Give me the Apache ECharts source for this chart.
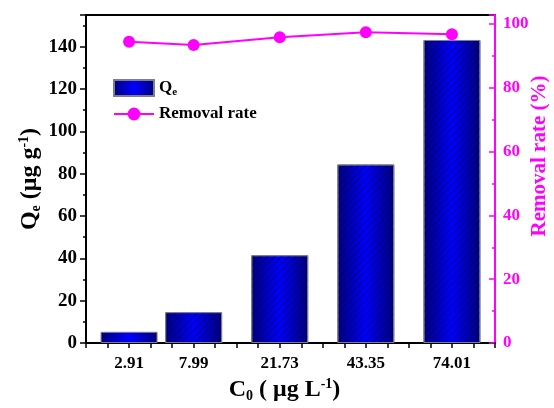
<!DOCTYPE html>
<html>
<head>
<meta charset="utf-8">
<script src="https://cdn.jsdelivr.net/npm/echarts@6/dist/echarts.min.js"></script>
<style>
html, body { margin: 0; padding: 0; background: #fff; }
#chart { width: 554px; height: 408px; }
</style>
</head>
<body>
<div id="chart"></div>
<script>
// C0 values shown under each bar, and where each bar sits on the x scale
const categories = ['2.91', '7.99', '21.73', '43.35', '74.01'];
const xPositions = [1, 1.75, 2.75, 3.75, 4.75];
// Qe (ug/g), left axis
const qeValues = [5.3, 14.6, 41.5, 84.4, 143.2];
// removal rate (%), right axis
const removalValues = [94.4, 93.4, 95.8, 97.4, 96.8];

const FONT = '"Liberation Serif", "Times New Roman", serif';
const MAGENTA = '#ff00ff';

const barFill = new echarts.graphic.LinearGradient(0, 0, 1, 0, [
    { offset: 0, color: '#00007a' },
    { offset: 0.5, color: '#0000ff' },
    { offset: 1, color: '#00007a' }
]);
const hatch = {
    symbol: 'rect',
    symbolSize: 1,
    color: 'rgba(0,0,70,0.5)',
    dashArrayX: [1, 0],
    dashArrayY: [1, 4],
    rotation: -Math.PI / 4
};

let myChart = echarts.init(document.getElementById('chart'));

let barData = qeValues.map(function (v, i) {
    let item = { value: [xPositions[i], v], itemStyle: {} };
    if (i > 0) item.itemStyle.decal = hatch; // the first short bar has no hatching
    return item;
});
let lineData = removalValues.map(function (v, i) {
    return [xPositions[i], v];
});

myChart.setOption({
    animation: false,
    textStyle: { fontFamily: FONT },
    grid: {
        left: 86, right: 59, top: 15, bottom: 65,
        outerBoundsMode: 'none',
        containLabel: false,
        show: true, borderColor: '#000', borderWidth: 2
    },
    legend: {
        orient: 'vertical',
        left: 108, top: 74,
        itemWidth: 40, itemHeight: 16, itemGap: 8,
        textStyle: {
            fontFamily: FONT, fontWeight: 'bold', fontSize: 17, color: '#000',
            rich: {
                b: { fontFamily: FONT, fontWeight: 'bold', fontSize: 17 },
                sub: { fontFamily: FONT, fontWeight: 'bold', fontSize: 11, padding: [8, 0, 0, 0] }
            }
        },
        formatter: function (name) {
            return name === 'Qe' ? '{b|Q}{sub|e}' : name;
        },
        data: [{ name: 'Qe', icon: 'rect' }, { name: 'Removal rate' }]
    },
    xAxis: {
        type: 'value',
        min: 0.5, max: 5.25, interval: 0.25,
        splitLine: { show: false },
        axisLine: { lineStyle: { color: '#000', width: 2 } },
        axisTick: { length: 5, lineStyle: { color: '#000', width: 1.5 } },
        axisLabel: {
            fontFamily: FONT, fontWeight: 'bold', fontSize: 17, color: '#000', margin: 12,
            showMinLabel: true, showMaxLabel: true,
            formatter: function (value) {
                for (let i = 0; i < xPositions.length; i++) {
                    if (Math.abs(xPositions[i] - value) < 1e-6) return categories[i];
                }
                return '';
            }
        },
        name: '{b|C}{sub|0}{b| ( μg L}{sup|-1}{b|)}',
        nameLocation: 'middle',
        nameMoveOverlap: false,
        nameGap: 34,
        nameTextStyle: {
            padding: [0, 12, 0, 0],
            rich: {
                b: { fontFamily: FONT, fontWeight: 'bold', fontSize: 24, color: '#000' },
                sub: { fontFamily: FONT, fontWeight: 'bold', fontSize: 14, color: '#000', padding: [12, 0, 0, 0] },
                sup: { fontFamily: FONT, fontWeight: 'bold', fontSize: 14, color: '#000', padding: [0, 0, 12, 0] }
            }
        }
    },
    yAxis: [
        {
            type: 'value',
            min: 0, max: 155, interval: 20,
            splitLine: { show: false },
            axisLine: { show: true, lineStyle: { color: '#000', width: 2 } },
            axisTick: { length: 6, lineStyle: { color: '#000', width: 1.5 } },
            minorTick: { show: true, splitNumber: 2, length: 3, lineStyle: { color: '#000', width: 1.5 } },
            axisLabel: {
                fontFamily: FONT, fontWeight: 'bold', fontSize: 19, color: '#000', margin: 9,
                showMaxLabel: false
            },
            name: '{b|Q}{sub|e}{b| (μg g}{sup|-1}{b|)}',
            nameLocation: 'middle',
            nameRotate: 90,
            nameMoveOverlap: false,
            nameGap: 43,
            nameTextStyle: {
                rich: {
                    b: { fontFamily: FONT, fontWeight: 'bold', fontSize: 24, color: '#000' },
                    sub: { fontFamily: FONT, fontWeight: 'bold', fontSize: 14, color: '#000', padding: [12, 0, 0, 0] },
                    sup: { fontFamily: FONT, fontWeight: 'bold', fontSize: 14, color: '#000', padding: [0, 0, 12, 0] }
                }
            }
        },
        {
            type: 'value',
            position: 'right',
            min: 0, max: 102.8, interval: 20,
            splitLine: { show: false },
            axisLine: { show: true, lineStyle: { color: MAGENTA, width: 2 } },
            axisTick: { inside: true, length: 6, lineStyle: { color: MAGENTA, width: 1.5 } },
            minorTick: { show: true, splitNumber: 2, length: 3, lineStyle: { color: MAGENTA, width: 1.5 } },
            axisLabel: {
                fontFamily: FONT, fontWeight: 'bold', fontSize: 17, color: MAGENTA, margin: 8,
                showMaxLabel: false
            },
            name: 'Removal rate (%)',
            nameLocation: 'middle',
            nameRotate: 90,
            nameMoveOverlap: false,
            nameGap: 34,
            nameTextStyle: {
                fontFamily: FONT, fontWeight: 'bold', fontSize: 21, color: MAGENTA,
                padding: [0, 0, 0, 46]
            }
        }
    ],
    series: [
        {
            name: 'Qe',
            type: 'bar',
            yAxisIndex: 0,
            barWidth: 57,
            itemStyle: { color: barFill, borderColor: '#808080', borderWidth: 1 },
            data: barData
        },
        {
            name: 'Removal rate',
            type: 'line',
            yAxisIndex: 1,
            symbol: 'circle',
            symbolSize: 12,
            lineStyle: { color: MAGENTA, width: 2 },
            itemStyle: { color: MAGENTA },
            data: lineData
        }
    ]
});
</script>
</body>
</html>
